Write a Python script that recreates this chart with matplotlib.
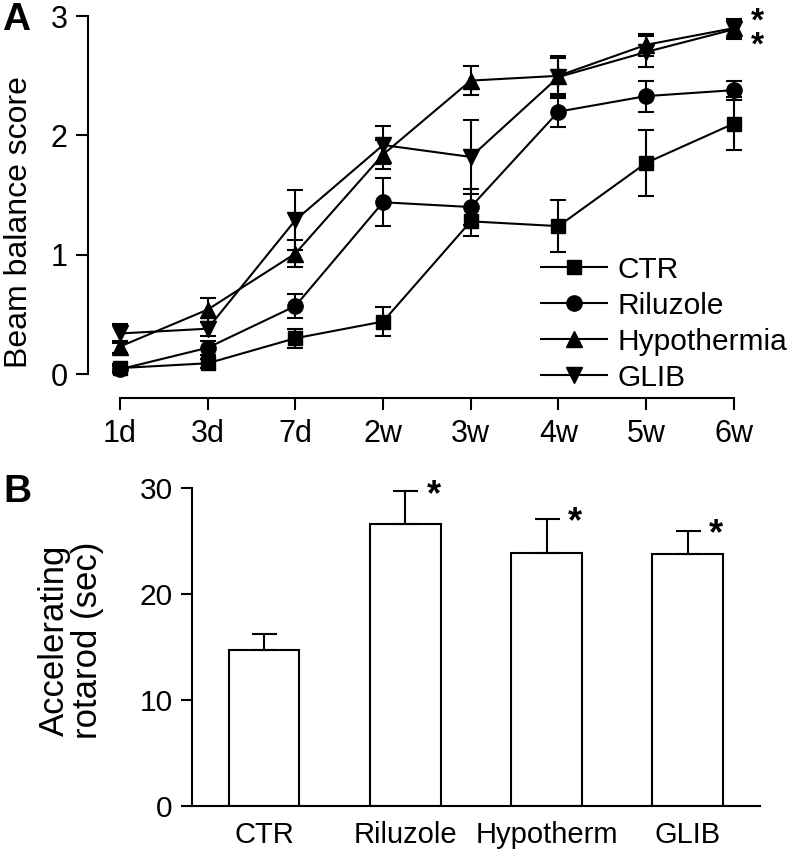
import matplotlib.pyplot as plt
from matplotlib.lines import Line2D

plt.rcParams['font.family'] = ['Liberation Sans', 'DejaVu Sans']

# Panel A data: beam balance score over time
timepoints = ['1d', '3d', '7d', '2w', '3w', '4w', '5w', '6w']
ctr = [0.05, 0.09, 0.30, 0.44, 1.28, 1.24, 1.77, 2.10]
ctr_err = [0.03, 0.04, 0.08, 0.12, 0.12, 0.22, 0.28, 0.22]
riluzole = [0.04, 0.22, 0.57, 1.44, 1.40, 2.20, 2.33, 2.38]
riluzole_err = [0.03, 0.06, 0.10, 0.20, 0.15, 0.13, 0.13, 0.08]
hypothermia = [0.23, 0.54, 1.01, 1.84, 2.46, 2.50, 2.76, 2.90]
hypothermia_err = [0.05, 0.10, 0.11, 0.12, 0.12, 0.15, 0.09, 0.08]
glib = [0.34, 0.38, 1.29, 1.92, 1.82, 2.49, 2.70, 2.89]
glib_err = [0.08, 0.06, 0.25, 0.16, 0.31, 0.18, 0.13, 0.08]

# Panel B data: accelerating rotarod
groups = ['CTR', 'Riluzole', 'Hypotherm', 'GLIB']
rotarod = [14.7, 26.6, 23.9, 23.8]
rotarod_err = [1.5, 3.1, 3.2, 2.2]
significant = [False, True, True, True]

fig = plt.figure(figsize=(7.92, 8.52), dpi=100)

lw = 1.5

# ---- Panel A ----
axA = fig.add_axes([0.111, 0.561, 0.861, 0.420])
x = list(range(len(timepoints)))
series = [
    ('CTR', ctr, ctr_err, 's', 10),
    ('Riluzole', riluzole, riluzole_err, 'o', 11),
    ('Hypothermia', hypothermia, hypothermia_err, '^', 12),
    ('GLIB', glib, glib_err, 'v', 12),
]
handles = []
for name, vals, errs, mk, ms in series:
    axA.errorbar(x, vals, yerr=errs, fmt='-' + mk, color='black', ms=ms,
                 lw=lw, elinewidth=lw, capsize=5.5, capthick=lw, clip_on=False)
    handles.append(Line2D([], [], color='black', marker=mk, ms=ms, lw=lw))

axA.set_xlim(-0.365, 7.41)
axA.set_ylim(0, 3)
axA.set_yticks([0, 1, 2, 3])
axA.set_xticks(x)
axA.set_xticklabels(timepoints)
axA.spines['top'].set_visible(False)
axA.spines['right'].set_visible(False)
axA.spines['left'].set_bounds(0, 3)
axA.spines['bottom'].set_position(('outward', 17))
axA.spines['bottom'].set_bounds(0, 7)
for s in ['left', 'bottom']:
    axA.spines[s].set_linewidth(lw)
axA.tick_params(width=lw, length=8.5, labelsize=22)
axA.tick_params(axis='y', pad=6)
axA.tick_params(axis='x', pad=7)
axA.set_ylabel('Beam balance score', fontsize=23)
axA.yaxis.set_label_coords(-0.079, 0.425)

# two significance stars stacked at 6w
axA.text(7.27, 2.85, '*\n*', fontsize=24, fontweight='bold', ha='center',
         va='center', linespacing=0.72)

fig.legend(handles, [s[0] for s in series], loc='center left',
           bbox_to_anchor=(0.683, 0.620), frameon=False, fontsize=21.5,
           handlelength=2.2, handletextpad=0.35, labelspacing=0.27,
           borderpad=0, borderaxespad=0)

fig.text(0.002, 0.965, 'A', fontsize=28, fontweight='bold', va='baseline', ha='left')

# ---- Panel B ----
axB = fig.add_axes([0.2424, 0.054, 0.717, 0.373])
xb = list(range(len(groups)))
axB.bar(xb, rotarod, width=0.5, color='white', edgecolor='black', lw=lw,
        yerr=[[0] * len(groups), rotarod_err], capsize=9,
        error_kw=dict(elinewidth=lw, capthick=lw, ecolor='black'), zorder=2)
for xi, v, e, sig in zip(xb, rotarod, rotarod_err, significant):
    if sig:
        axB.text(xi + 0.2, v + e - 0.4, '*', fontsize=26, fontweight='bold',
                 ha='center', va='center')
axB.set_xlim(-0.51, 3.51)
axB.set_ylim(0, 30)
axB.set_yticks([0, 10, 20, 30])
axB.set_xticks(xb)
axB.set_xticklabels(groups)
axB.spines['top'].set_visible(False)
axB.spines['right'].set_visible(False)
for s in ['left', 'bottom']:
    axB.spines[s].set_linewidth(lw)
axB.tick_params(axis='y', width=lw, length=8, labelsize=21.5, pad=6)
axB.tick_params(axis='x', length=0, labelsize=21, pad=11)
axB.set_ylabel('Accelerating\nrotarod (sec)', fontsize=25, linespacing=1.0)
axB.yaxis.set_label_coords(-0.155, 0.52)

fig.text(0.004, 0.411, 'B', fontsize=28, fontweight='bold', va='baseline', ha='left')

plt.savefig('out.png', dpi=100)
